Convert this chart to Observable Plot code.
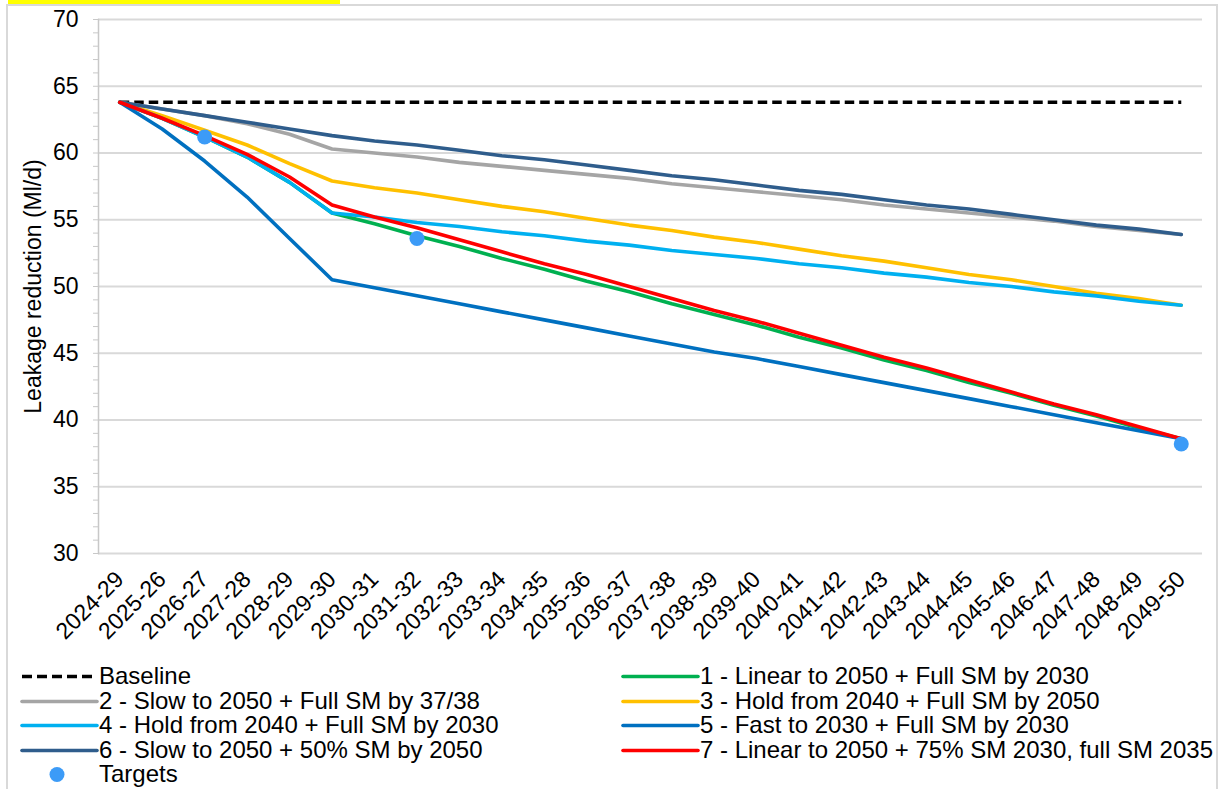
<!DOCTYPE html>
<html>
<head>
<meta charset="utf-8">
<script src="https://cdn.jsdelivr.net/npm/d3@7"></script>
<script src="https://cdn.jsdelivr.net/npm/@observablehq/plot@0.6"></script>
<style>
  html, body { margin: 0; padding: 0; background: #fff; }
  body { width: 1224px; height: 789px; position: relative; overflow: hidden; font-family: "Liberation Sans", Arial, sans-serif; }
  #hl { position: absolute; left: 8px; top: 0; width: 332px; height: 3.5px; background: #ffff00; }
  #border { position: absolute; left: 6px; top: 4px; width: 1212px; height: 800px; border: 2px solid #d9d9d9; box-sizing: border-box; }
  #chart { position: absolute; left: 0; top: 0; }
  .leg { position: absolute; font-size: 24px; color: #000; line-height: 24px; white-space: nowrap; }
  .leg svg { position: absolute; left: 0; top: 0; }
  .leg span { position: absolute; top: 0; display: block; height: 24px; line-height: 24px; }
</style>
</head>
<body>
<div id="hl"></div>
<div id="border"></div>
<div id="chart"></div>
<div id="legend"></div>
<script>
const categories = ["2024-29","2025-26","2026-27","2027-28","2028-29","2029-30","2030-31","2031-32","2032-33","2033-34","2034-35","2035-36","2036-37","2037-38","2038-39","2039-40","2040-41","2041-42","2042-43","2043-44","2044-45","2045-46","2046-47","2047-48","2048-49","2049-50"];

const baseline = [63.8,63.8,63.8,63.8,63.8,63.8,63.8,63.8,63.8,63.8,63.8,63.8,63.8,63.8,63.8,63.8,63.8,63.8,63.8,63.8,63.8,63.8,63.8,63.8,63.8,63.8];
const s1 = [63.8,62.6,61.2,59.7,57.8,55.5,54.7,53.8,53.0,52.1,51.3,50.4,49.6,48.7,47.9,47.1,46.2,45.4,44.5,43.7,42.8,42.0,41.1,40.3,39.4,38.6];
const s2 = [63.8,63.3,62.8,62.2,61.4,60.3,60.0,59.7,59.3,59.0,58.7,58.4,58.1,57.7,57.4,57.1,56.8,56.5,56.1,55.8,55.5,55.2,54.9,54.5,54.2,53.9];
const s3 = [63.8,62.8,61.7,60.6,59.2,57.9,57.4,57.0,56.5,56.0,55.6,55.1,54.6,54.2,53.7,53.3,52.8,52.3,51.9,51.4,50.9,50.5,50.0,49.5,49.1,48.6];
const s4 = [63.8,62.6,61.2,59.7,57.8,55.5,55.2,54.8,54.5,54.1,53.8,53.4,53.1,52.7,52.4,52.1,51.7,51.4,51.0,50.7,50.3,50.0,49.6,49.3,48.9,48.6];
const s5 = [63.8,61.8,59.4,56.7,53.6,50.5,49.9,49.3,48.7,48.1,47.5,46.9,46.3,45.7,45.1,44.6,44.0,43.4,42.8,42.2,41.6,41.0,40.4,39.8,39.2,38.6];
const s6 = [63.8,63.3,62.8,62.3,61.8,61.3,60.9,60.6,60.2,59.8,59.5,59.1,58.7,58.3,58.0,57.6,57.2,56.9,56.5,56.1,55.8,55.4,55.0,54.6,54.3,53.9];
const s7 = [63.8,62.6,61.3,59.9,58.2,56.1,55.2,54.4,53.5,52.6,51.7,50.9,50.0,49.1,48.2,47.4,46.5,45.6,44.7,43.9,43.0,42.1,41.2,40.4,39.5,38.6];

const targetCats = ["2026-27","2031-32","2049-50"];
const targetVals = [61.2, 53.6, 38.2];

const seriesNames = ["Baseline","1 - Linear to 2050 + Full SM by 2030","2 - Slow to 2050 + Full SM by 37/38","3 - Hold from 2040 + Full SM by 2050","4 - Hold from 2040 + Full SM by 2030","5 - Fast to 2030 + Full SM by 2030","6 - Slow to 2050 + 50% SM by 2050","7 - Linear to 2050 + 75% SM 2030, full SM 2035"];
const seriesValues = [baseline, s1, s2, s3, s4, s5, s6, s7];
const seriesColors = ["#000000","#00B050","#A5A5A5","#FFC000","#00B0F0","#0070C0","#2F5D8C","#FF0000"];
const targetName = "Targets";
const targetColor = "#3C9BF7";

const yTicks = [30,35,40,45,50,55,60,65,70];
const yMinor = d3.range(30, 71, 1);
const yLabel = "Leakage reduction (Ml/d)";

const lineMarks = seriesValues.map((vals, i) => {
  const data = categories.map((c, j) => ({cat: c, value: vals[j]}));
  return Plot.line(data, {
    x: "cat", y: "value",
    stroke: seriesColors[i], strokeWidth: 3.6,
    strokeDasharray: i === 0 ? "9.5,5" : null,
    strokeLinejoin: "round", strokeLinecap: i === 0 ? "butt" : "round"
  });
});
const targets = targetCats.map((c, i) => ({cat: c, value: targetVals[i]}));

const chart = Plot.plot({
  width: 1224, height: 650,
  marginLeft: 98, marginRight: 22, marginTop: 19, marginBottom: 97,
  style: {fontFamily: "'Liberation Sans', Arial, sans-serif", fontSize: "23px", background: "transparent", overflow: "visible"},
  x: {type: "point", domain: categories, padding: 0.5, round: false, label: null},
  y: {domain: [30, 70], label: null},
  marks: [
    Plot.gridY(yTicks.filter(t => t > 30), {stroke: "#d9d9d9", strokeOpacity: 1, strokeWidth: 2}),
    Plot.ruleY([30], {stroke: "#d9d9d9", strokeWidth: 2}),
    Plot.frame({anchor: "left", stroke: "#c8c8c8", strokeWidth: 1.5}),
    Plot.axisY({ticks: yMinor, tickSize: 5, tickFormat: () => "", stroke: "#c8c8c8", label: null}),
    Plot.axisY({ticks: yTicks, tickSize: 0, tickPadding: 20, fontSize: 23, fill: "#000", label: null}),
    Plot.axisX({tickRotate: -45, tickSize: 0, tickPadding: 22, fontSize: 23, fill: "#000", label: null}),
    Plot.text([yLabel], {frameAnchor: "left", textAnchor: "middle", dx: -65, rotate: -90, fontSize: 23, fill: "#000"}),
    ...lineMarks,
    Plot.dot(targets, {x: "cat", y: "value", r: 7.5, fill: targetColor, stroke: null})
  ]
});
document.getElementById("chart").appendChild(chart);

// Legend (row-major across two columns, as in the original)
const legend = document.getElementById("legend");
const entries = seriesNames.map((n, i) => ({name: n, color: seriesColors[i], dashed: i === 0, dot: false}));
entries.push({name: targetName, color: targetColor, dashed: false, dot: true});
const colX = [20, 621];
const rowY = [664, 688.5, 713, 737.5, 762];
entries.forEach((e, k) => {
  const col = k % 2, row = Math.floor(k / 2);
  const div = document.createElement("div");
  div.className = "leg";
  div.style.left = colX[col] + "px";
  div.style.top = rowY[row] + "px";
  div.style.width = "600px";
  div.style.height = "24px";
  const ns = "http://www.w3.org/2000/svg";
  const svg = document.createElementNS(ns, "svg");
  svg.setAttribute("width", 80); svg.setAttribute("height", 24);
  if (e.dot) {
    const c = document.createElementNS(ns, "circle");
    c.setAttribute("cx", 37); c.setAttribute("cy", 12.5); c.setAttribute("r", 7.5);
    c.setAttribute("fill", e.color);
    svg.appendChild(c);
  } else {
    const l = document.createElementNS(ns, "line");
    l.setAttribute("x1", 2); l.setAttribute("x2", 77);
    l.setAttribute("y1", 12.5); l.setAttribute("y2", 12.5);
    l.setAttribute("stroke", e.color); l.setAttribute("stroke-width", 3.6);
    if (e.dashed) l.setAttribute("stroke-dasharray", "10,5");
    else l.setAttribute("stroke-linecap", "round");
    svg.appendChild(l);
  }
  div.appendChild(svg);
  const sp = document.createElement("span");
  sp.style.left = "79px";
  sp.textContent = e.name;
  div.appendChild(sp);
  legend.appendChild(div);
});
</script>
</body>
</html>
